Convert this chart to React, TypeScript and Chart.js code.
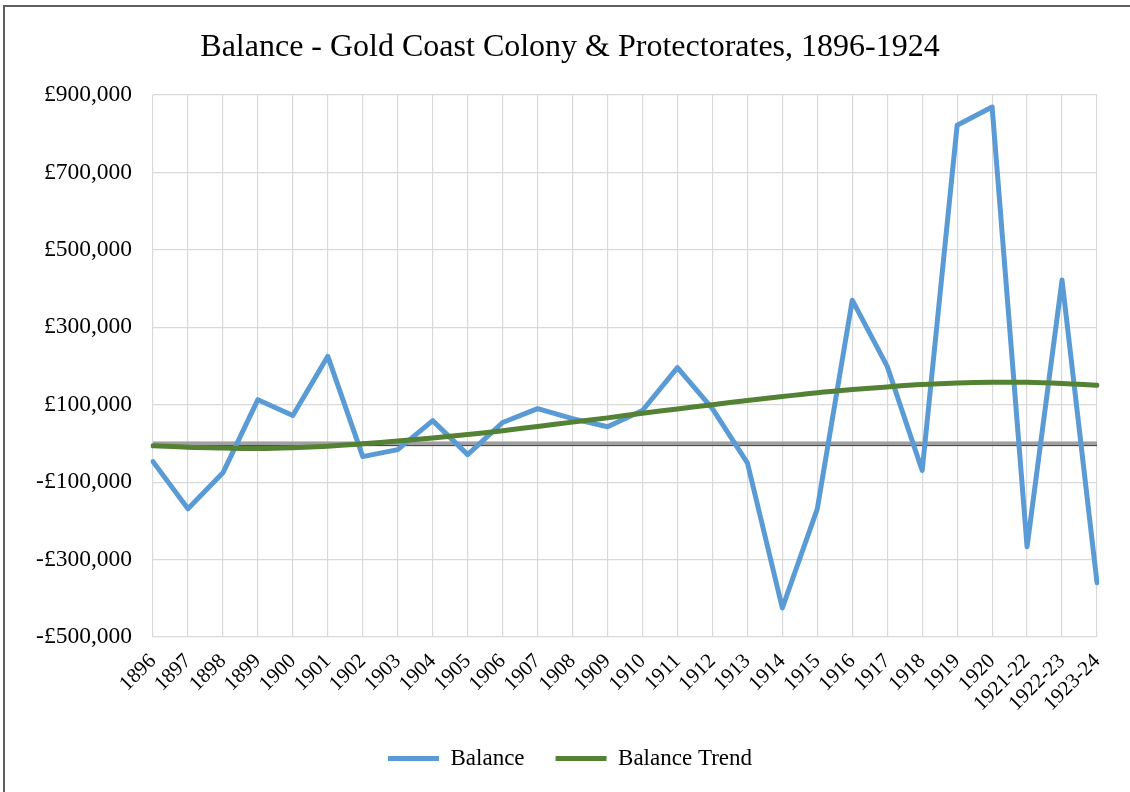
import React, { useEffect, useRef } from "react";
import { Chart, registerables } from "chart.js";

Chart.register(...registerables);

const categories = [
  "1896", "1897", "1898", "1899", "1900", "1901", "1902", "1903", "1904", "1905",
  "1906", "1907", "1908", "1909", "1910", "1911", "1912", "1913", "1914", "1915",
  "1916", "1917", "1918", "1919", "1920", "1921-22", "1922-23", "1923-24",
];

const balance = [
  -47000, -169000, -76000, 113000, 72000, 225000, -34000, -16000, 59000, -29000,
  54000, 90000, 64000, 43000, 85000, 196000, 90000, -50000, -425000, -169000,
  370000, 199000, -70000, 822000, 869000, -267000, 422000, -360000,
];

const balanceTrend = [
  -6000, -10000, -12000, -13000, -11000, -7000, -1000, 6000, 14000, 23000,
  33000, 44000, 55000, 66000, 78000, 89000, 100000, 111000, 121000, 131000,
  139000, 146000, 152000, 156000, 158000, 158000, 155000, 150000,
];

const yMin = -500000;
const yMax = 900000;
const yStep = 200000;

const titleText = "Balance - Gold Coast Colony & Protectorates, 1896-1924";
const seriesNames = ["Balance", "Balance Trend"];

const FONT = "'Liberation Serif', 'Times New Roman', serif";

function formatPound(v: number): string {
  const abs = Math.abs(v).toLocaleString("en-GB");
  return (v < 0 ? "-£" : "£") + abs;
}

const zeroLinePlugin = {
  id: "zeroLine",
  beforeDatasetsDraw(chart: any) {
    const ctx = chart.ctx;
    const y = chart.scales.y.getPixelForValue(0);
    const { left, right } = chart.chartArea;
    ctx.save();
    ctx.fillStyle = "#a0a0a0";
    ctx.fillRect(left, y - 2, right - left, 3.2);
    ctx.fillStyle = "#4a4a4a";
    ctx.fillRect(left, y + 1.3, right - left, 1.4);
    ctx.restore();
  },
};

export default function App() {
  const canvasRef = useRef<HTMLCanvasElement | null>(null);

  useEffect(() => {
    const canvas = canvasRef.current;
    if (!canvas) return;
    const chart = new Chart(canvas, {
      type: "line",
      data: {
        labels: categories,
        datasets: [
          {
            label: seriesNames[0],
            data: balance,
            borderColor: "#5b9bd5",
            backgroundColor: "#5b9bd5",
            borderWidth: 5,
            pointRadius: 0,
            pointHoverRadius: 0,
            tension: 0,
            borderJoinStyle: "round",
            borderCapStyle: "round",
            order: 1,
          },
          {
            label: seriesNames[1],
            data: balanceTrend,
            borderColor: "#548235",
            backgroundColor: "#548235",
            borderWidth: 5,
            pointRadius: 0,
            pointHoverRadius: 0,
            tension: 0.4,
            borderCapStyle: "round",
            order: 0,
          },
        ],
      },
      options: {
        responsive: false,
        animation: false,
        layout: { padding: { left: 43, right: 33, top: 0, bottom: 12 } },
        plugins: {
          title: {
            display: true,
            text: titleText,
            color: "#000",
            font: { family: FONT, size: 32, weight: "normal" },
            padding: { top: 28.8, bottom: 27.8 },
          },
          legend: {
            display: true,
            position: "bottom",
            labels: {
              color: "#000",
              font: { family: FONT, size: 23 },
              usePointStyle: true,
              pointStyle: "line",
              pointStyleWidth: 51,
              boxHeight: 23,
              padding: 31,
              sort: (a: any, b: any) => a.datasetIndex - b.datasetIndex,
            },
          },
          tooltip: { enabled: false },
        },
        scales: {
          x: {
            type: "category",
            offset: false,
            grid: { color: "#d9d9d9", lineWidth: 1.2, drawTicks: false, offset: false },
            border: { display: false },
            ticks: {
              color: "#000",
              font: { family: FONT, size: 21 },
              minRotation: 45,
              maxRotation: 45,
              autoSkip: false,
              padding: 12,
            },
            afterFit(scale: any) {
              scale.height = 79;
            },
          },
          y: {
            min: yMin,
            max: yMax,
            grid: { color: "#d9d9d9", lineWidth: 1.2, drawTicks: false },
            border: { display: false },
            ticks: {
              stepSize: yStep,
              color: "#000",
              font: { family: FONT, size: 23.5 },
              padding: 21,
              callback: (v: any) => formatPound(Number(v)),
            },
            afterFit(scale: any) {
              scale.width = 110;
              // let the tick labels overflow into the left padding
              scale._computeLabelArea = () => undefined;
            },
          },
        },
      },
      plugins: [zeroLinePlugin],
    });
    return () => chart.destroy();
  }, []);

  return (
    <div
      style={{
        position: "fixed",
        left: 0,
        top: 0,
        width: 1130,
        height: 792,
        overflow: "hidden",
        background: "#fff",
      }}
    >
      <canvas
        ref={canvasRef}
        width={1130}
        height={792}
        style={{ position: "absolute", left: 0, top: 0, width: 1130, height: 792 }}
      />
      <div
        style={{
          position: "absolute",
          left: 3,
          top: 5,
          width: 1200,
          height: 900,
          border: "2px solid #5f5f5f",
          pointerEvents: "none",
        }}
      />
    </div>
  );
}
